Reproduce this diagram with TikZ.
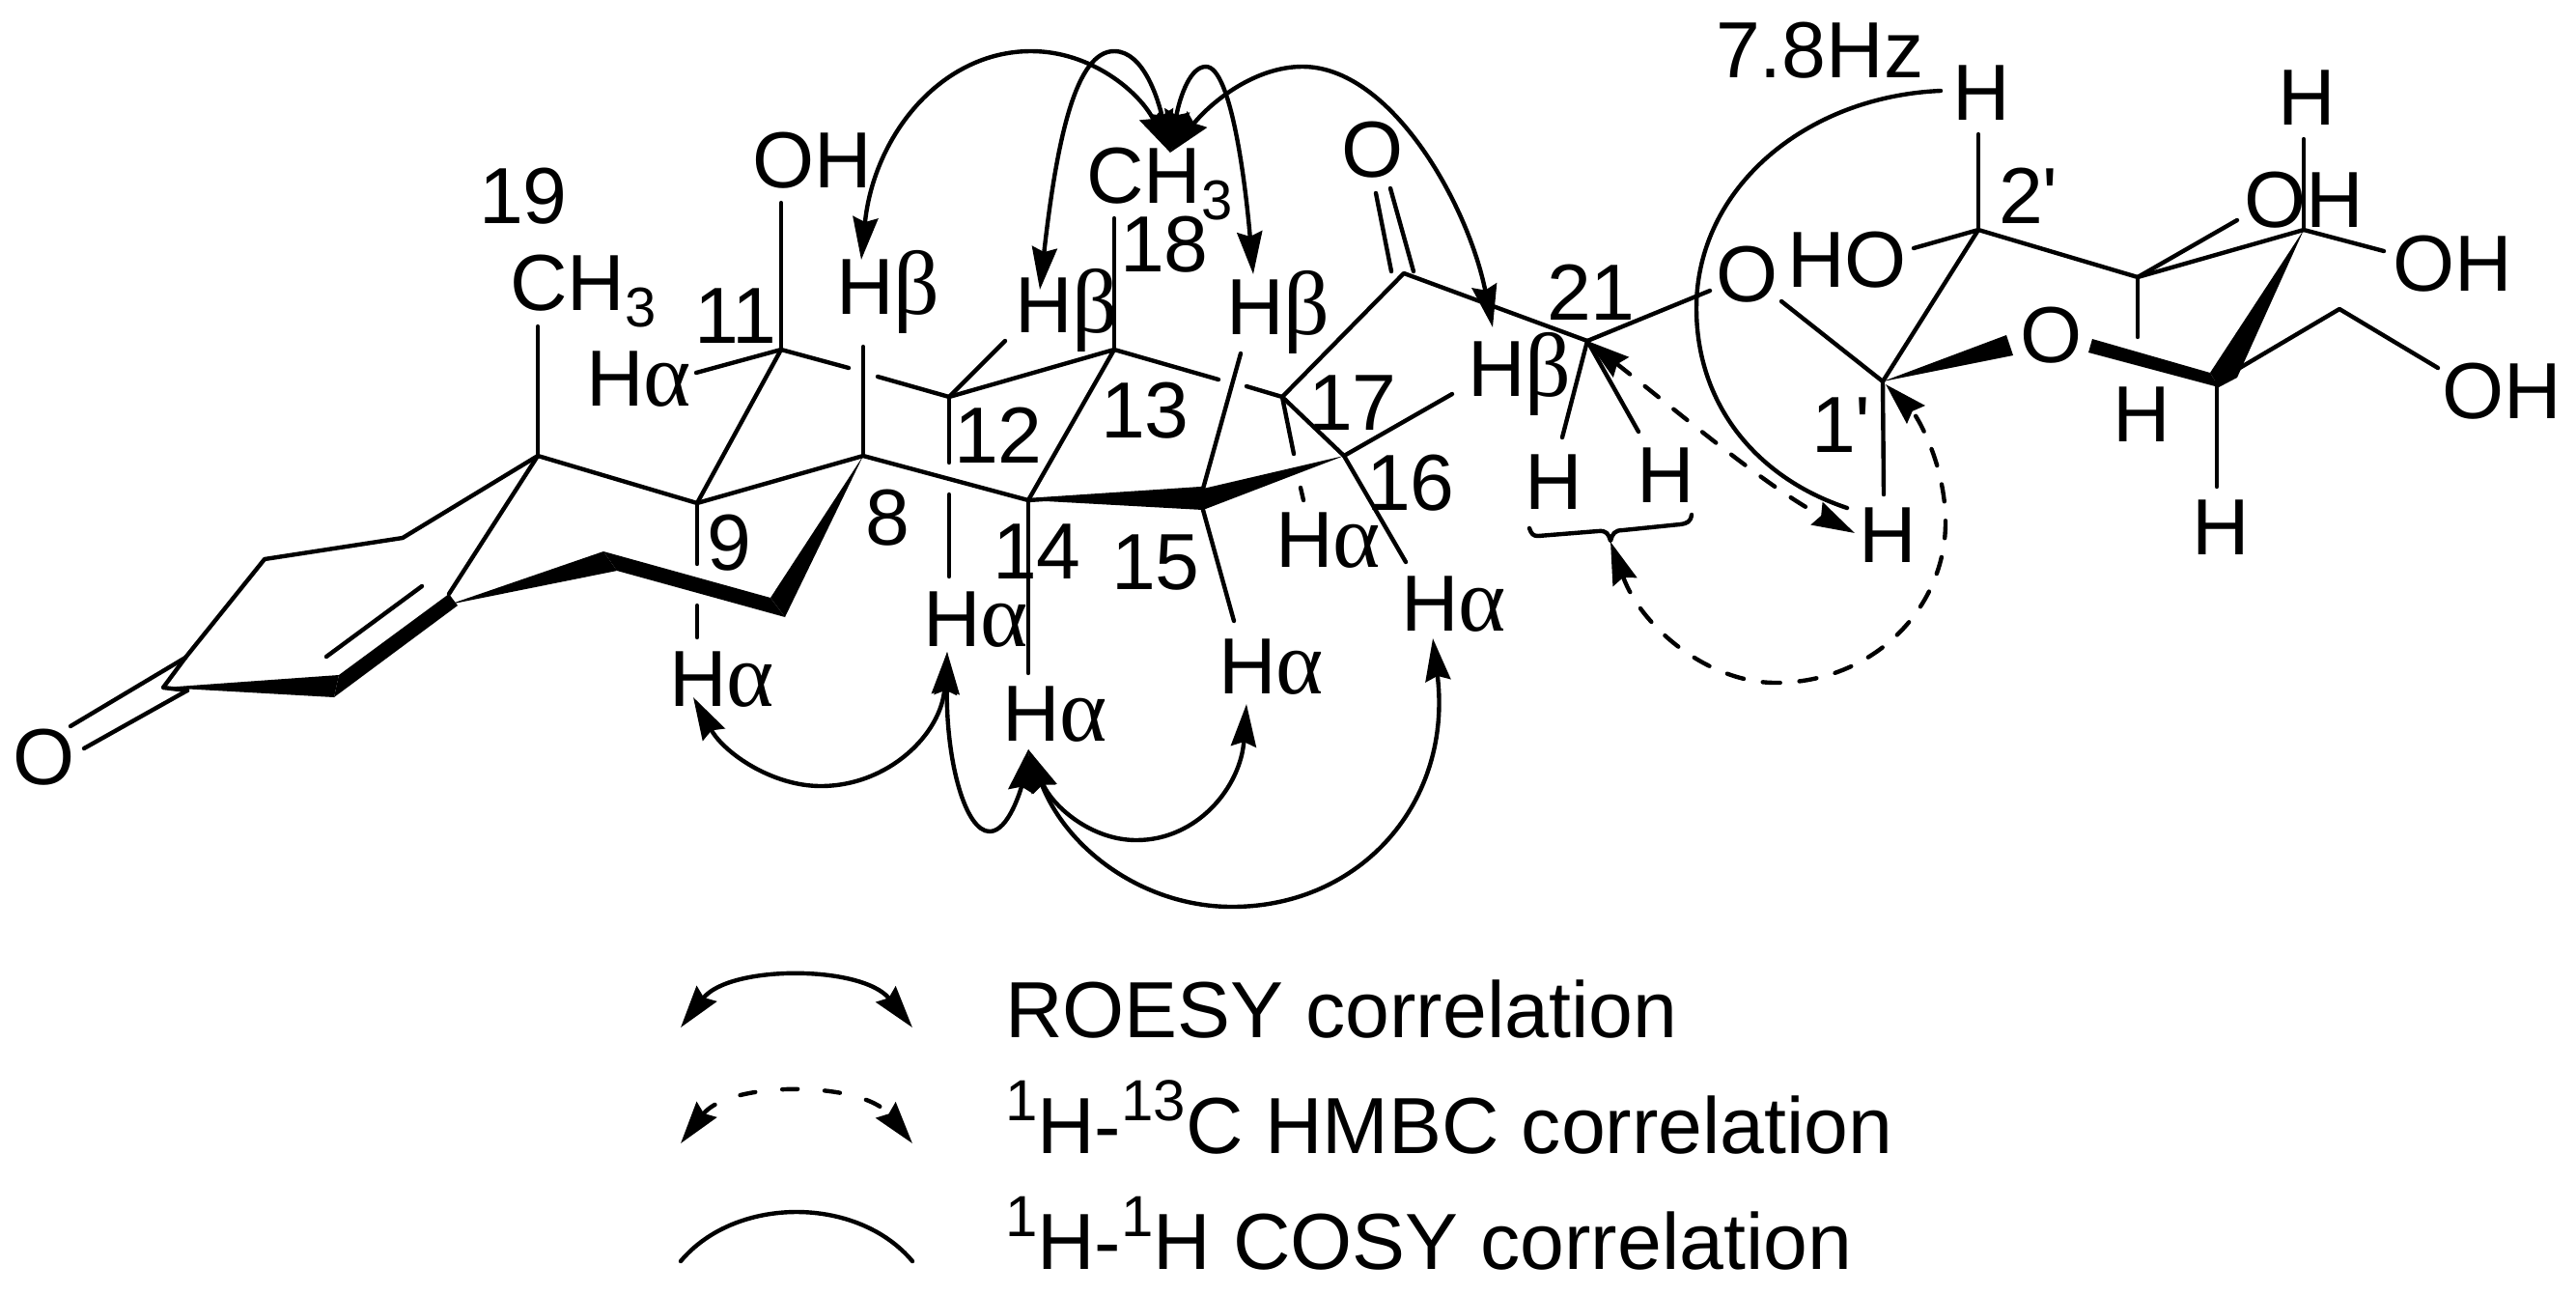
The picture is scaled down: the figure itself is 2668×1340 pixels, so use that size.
\documentclass[tikz,border=0pt]{standalone}
\usepackage{fontspec}
\setmainfont{Liberation Sans}
\newfontfamily\greekfont[Scale=1.14]{Liberation Serif}
\newfontfamily\primefont{Liberation Sans}
\usetikzlibrary{arrows.meta}
\newcommand{\ha}{H{\greekfont α}}
\newcommand{\hb}{H{\greekfont β}}
\newcommand{\prm}{{\primefont '}}
\newcommand{\subsc}[1]{\raisebox{-4.3pt}{\fontsize{14.5}{14.5}\selectfont #1}}
\newcommand{\supsc}[1]{\raisebox{8.5pt}{\fontsize{15}{15}\selectfont #1}}
\tikzset{
  lab/.style={inner sep=0pt, anchor=base west, xshift=-1.3pt, font=\fontsize{20.6}{24}\selectfont},
  roe/.style={<->},
  hmb/.style={<->, dash pattern=on 4.5pt off 5pt},
  cos/.style={line width=1.1pt}
}
\begin{document}
\begin{tikzpicture}[x=.25pt, y=-.25pt, line width=1.1pt, line cap=round, line join=round,
  >={Stealth[length=11pt, width=6.5pt, inset=1.2pt]}]
\useasboundingbox (0,0) rectangle (2668,1340);
% atoms of the steroid
\coordinate(c1) at (417,557); \coordinate(c2) at (274,579); \coordinate(c3) at (192,681);
\coordinate(c3a) at (169,712); \coordinate(c3b) at (194,715);
\coordinate(c4a) at (351,699); \coordinate(c4b) at (346,722);
\coordinate(c5a) at (465,615); \coordinate(c5b) at (474,627); \coordinate(c5c) at (465,626);
\coordinate(c6a) at (625,571); \coordinate(c6b) at (639,591);
\coordinate(c7a) at (798,619); \coordinate(c7b) at (813,639);
\coordinate(c8) at (894,472); \coordinate(c9) at (722,521); \coordinate(c10) at (557,472);
\coordinate(c11) at (809,362); \coordinate(c12) at (983,411); \coordinate(c13) at (1154,362);
\coordinate(c14) at (1065,518); \coordinate(c15a) at (1246,506); \coordinate(c15b) at (1246,528);
\coordinate(c16) at (1392,472); \coordinate(c17) at (1328,411);
\coordinate(c20) at (1454,283); \coordinate(c21) at (1644,353);
% atoms of the sugar
\coordinate(s1) at (1950,395); \coordinate(s2) at (2049,238); \coordinate(s3) at (2214,287);
\coordinate(s4) at (2386,238); \coordinate(s5) at (2296,395); \coordinate(s6) at (2423,320);
\coordinate(s1a) at (2078,347); \coordinate(s1b) at (2085,368);
\coordinate(s5a) at (2167,351); \coordinate(s5b) at (2163,365);
\coordinate(s5c) at (2289,386); \coordinate(s5d) at (2298,401); \coordinate(s5e) at (2317,391);

\draw(c3)--(c2)--(c1)--(c10)--(c9)--(c8)--(c14)--(c15a);
\draw(c3)--(c3a)--(c3b);
\draw(c5a)--(c10); \draw(c9)--(c11);
\draw(c11)--(809,210); \draw(c10)--(557,338);
\fill(c3a)--(c4a)--(c4b)--cycle;
\fill(c4a)--(c4b)--(c5b)--(c5a)--cycle;
\fill(c5c)--(c6a)--(c6b)--cycle;
\fill(c6a)--(c6b)--(c7b)--(c7a)--cycle;
\fill(c8)--(c7a)--(c7b)--cycle;
\fill(c14)--(c15a)--(c15b)--cycle;
\fill(c15a)--(c15b)--(c16)--cycle;
\draw(338,680)--(437,607);
\draw(192,681)--(73,752); \draw(c3b)--(87,775);
\draw(c9)--(722,584); \draw(722,627)--(722,660);
\draw(c11)--(721,386); \draw(c11)--(879,381); \draw(909,390)--(c12);
\draw(c8)--(894,359);
\draw(c12)--(1041,353); \draw(c12)--(c13)--(c14);
\draw(c13)--(1154,226); \draw(c13)--(1262,393); \draw(1291,400)--(c17);
\draw(c12)--(983,479); \draw(983,512)--(983,597);
\draw(c14)--(1065,697);
\draw(1285,366)--(c15a); \draw(c15b)--(1278,643);
\draw(c17)--(c16)--(1456,582); \draw(c16)--(1504,408);
\draw(c17)--(1340,470); \draw(1347,505)--(1350,518);
\draw(c17)--(c20)--(c21);
\draw(1425,200)--(1441,281); \draw(1440,195)--(1464,281);
\draw(c21)--(1618,453); \draw(c21)--(1697,447); \draw(c21)--(1771,301);
\draw(1584,547) .. controls (1586,553) and (1588,555) .. (1593,555)--(1655,550)
  .. controls (1664,549) and (1666,553) .. (1668,560) .. controls (1670,553) and (1672,549) .. (1681,549)
  --(1740,543) .. controls (1748,542) and (1751,540) .. (1752,533);
\draw(1845,312)--(s1)--(s2)--(s3)--(s4);
\draw(s1)--(1951,512); \draw(s2)--(2049,139); \draw(s2)--(1982,257);
\draw(s3)--(2214,349); \draw(s3)--(2317,228);
\draw(s4)--(2386,144); \draw(s4)--(2469,260);
\draw(s5)--(s6)--(2525,381); \draw(s5)--(2296,504);
\fill(s1)--(s1a)--(s1b)--cycle;
\fill(s5a)--(s5b)--(s5d)--(s5c)--cycle;
\fill(s4)--(s5c)--(s5d)--(s5e)--cycle;

\node[lab](n19) at (499,231){19};
\node[lab](nme19) at (531,321){CH\subsc{3}};
\node[lab](n11) at (722,355){11};
\node[lab](noh11) at (782,194){OH};
\node[lab](nh11) at (610,420){\ha};
\node[lab](n9) at (735,590){9};
\node[lab](nh9) at (696,731){\ha};
\node[lab](no3) at (16,812){O};
\node[lab](nme18) at (1128,210){CH\subsc{3}};
\node[lab](n18) at (1163,281){18};
\node[lab](nh8) at (869,325){\hb};
\node[lab](nh12b) at (1054,344){\hb};
\node[lab](nh15b) at (1273,346){\hb};
\node[lab](no20) at (1392,183){O};
\node[lab](n21) at (1605,331){21};
\node[lab](nh16b) at (1523,410){\hb};
\node[lab](n13) at (1143,453){13};
\node[lab](n17) at (1358,445){17};
\node[lab](n12) at (991,479){12};
\node[lab](n16) at (1418,528){16};
\node[lab](n8) at (899,564){8};
\node[lab](n14) at (1031,599){14};
\node[lab](n15) at (1154,610){15};
\node[lab](nh17) at (1324,587){\ha};
\node[lab](nh16a) at (1454,653){\ha};
\node[lab](nh12a) at (959,669){\ha};
\node[lab](nh15a) at (1265,718){\ha};
\node[lab](nh14) at (1041,767){\ha};
\node[lab](nh21a) at (1582,527){H};
\node[lab](nh21b) at (1698,520){H};
\node[lab](nj) at (1780,80){7.8Hz};
\node[lab](nhs2) at (2025,124){H};
\node[lab](nhs4) at (2362,129){H};
\node[lab](n2p) at (2073,231){2\prm};
\node[lab](nohs3) at (2327,235){OH};
\node[lab](nohs2) at (1854,297){HO};
\node[lab](nog) at (1780,312){O};
\node[lab](nohs4) at (2481,301){OH};
\node[lab](nos) at (2095,375){O};
\node[lab](nohs6) at (2532,433){OH};
\node[lab](nhs3) at (2191,457){H};
\node[lab](n1p) at (1879,468){1\prm};
\node[lab](nhs1) at (1928,582){H};
\node[lab](nhs5) at (2273,574){H};

% correlations
\coordinate(me) at (1212,158); \coordinate(ha12) at (981,675); \coordinate(ha14) at (1065,776);
\draw[roe](892,269) .. controls (905,140) and (975,53) .. (1068,53) .. controls (1130,53) and (1180,95) .. (me);
\draw[roe](1077,300) .. controls (1095,140) and (1115,53) .. (1154,53) .. controls (1185,53) and (1200,105) .. (me);
\draw[roe](1298,284) .. controls (1290,190) and (1275,69) .. (1249,69) .. controls (1230,69) and (1220,110) .. (me);
\draw[roe](1546,339) .. controls (1520,210) and (1440,69) .. (1349,69) .. controls (1300,69) and (1255,105) .. (me);
\draw[roe](718,722) .. controls (750,780) and (800,814) .. (850,814) .. controls (920,814) and (975,760) .. (ha12);
\draw[roe](ha12) .. controls (980,790) and (1000,861) .. (1025,861) .. controls (1045,861) and (1058,815) .. (ha14);
\draw[roe](ha14) .. controls (1090,835) and (1130,870) .. (1177,870) .. controls (1240,870) and (1285,815) .. (1291,729);
\draw[roe](ha14) .. controls (1105,880) and (1185,939) .. (1276,939) .. controls (1410,939) and (1505,830) .. (1484,661);
\draw[hmb](c21) .. controls (1730,420) and (1830,505) .. (1921,552);
\draw[hmb](1668,561) .. controls (1700,650) and (1770,707) .. (1839,707) .. controls (1940,707) and (2015,630) .. (2015,541) .. controls (2015,480) and (1985,430) .. (1953,398);
\draw[cos](2010,94) .. controls (1870,100) and (1757,195) .. (1757,319) .. controls (1757,420) and (1820,495) .. (1913,526);

% legend
\coordinate(la) at (705,1064); \coordinate(lb) at (945,1064);
\coordinate(lc) at (705,1184); \coordinate(ld) at (945,1184);
\coordinate(le) at (705,1306); \coordinate(lf) at (945,1306);
\draw[roe](la) .. controls (755,999) and (893,999) .. (lb);
\draw[hmb, dash pattern=on 4pt off 7pt](lc) .. controls (755,1119) and (893,1119) .. (ld);
\draw[cos](le) .. controls (762,1238) and (888,1238) .. (lf);
\node[lab](ltxa) at (1044,1074){ROESY correlation};
\node[lab](ltxb) at (1044,1194){\supsc{1}H-\supsc{13}C HMBC correlation};
\node[lab](ltxc) at (1044,1314){\supsc{1}H-\supsc{1}H COSY correlation};
\end{tikzpicture}
\end{document}
